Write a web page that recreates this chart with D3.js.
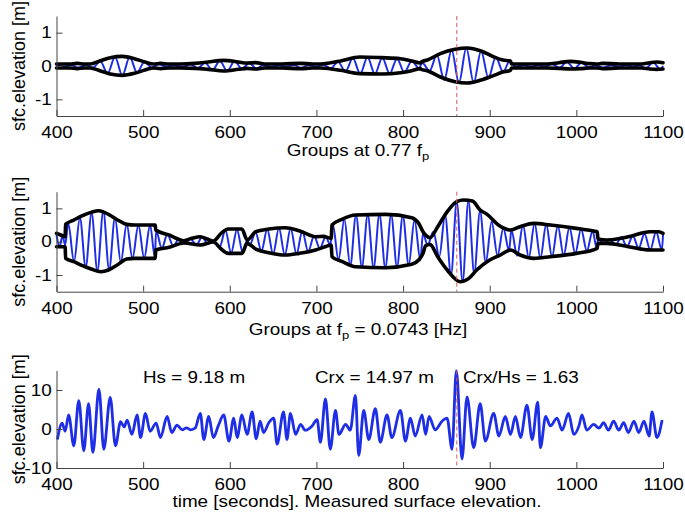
<!DOCTYPE html>
<html>
<head>
<meta charset="utf-8">
<script src="https://cdn.jsdelivr.net/npm/d3@7"></script>
<style>
  html, body { margin: 0; padding: 0; background: #fff; }
  svg { display: block; }
  text { font-family: "Liberation Sans", Arial, sans-serif; fill: #000; }
</style>
</head>
<body>
<svg id="chart" width="685" height="516"></svg>
<script>
// ---------------- DATA ----------------
const xTickValues = [400, 500, 600, 700, 800, 900, 1000, 1100];
const yTicksGroups = [-1, 0, 1];
const yTicksMeasured = [-10, 0, 10];
const crestTime = 862;

const yLabel = "sfc.elevation [m]";
const title1 = ["Groups at 0.77 f", "p", ""];
const title2 = ["Groups at f", "p", " = 0.0743 [Hz]"];
const title3 = "time [seconds]. Measured surface elevation.";
const annotations = ["Hs = 9.18 m", "Crx = 14.97 m", "Crx/Hs = 1.63"];

// Panel 1: groups at 0.77 fp  [time, elevation]
const p1Upper = [[400,0.06],[415,0.06],[424,0.08],[432,0.06],[439,0.06],[450,0.15],[462,0.25],[476,0.29],[490,0.22],[502,0.12],[512,0.06],[520,0.08],[530,0.06],[543,0.06],[560,0.08],[575,0.12],[593,0.17],[610,0.12],[620,0.09],[630,0.1],[640,0.06],[660,0.06],[682,0.08],[695,0.06],[705,0.06],[715,0.09],[728,0.15],[750,0.27],[775,0.25],[797,0.22],[810,0.15],[820,0.09],[821,0.12],[828,0.18],[843,0.37],[860,0.5],[874,0.54],[890,0.45],[905,0.27],[915,0.18],[924,0.15],[925,0.06],[945,0.06],[966,0.06],[980,0.1],[993,0.14],[1005,0.11],[1015,0.07],[1024,0.06],[1030,0.08],[1050,0.06],[1075,0.06],[1085,0.1],[1093,0.12],[1100,0.1]];
const p1Lower = [[400,-0.06],[415,-0.06],[424,-0.08],[432,-0.06],[439,-0.06],[450,-0.14],[462,-0.24],[476,-0.28],[490,-0.22],[502,-0.12],[512,-0.06],[520,-0.08],[530,-0.06],[543,-0.06],[560,-0.07],[575,-0.1],[593,-0.15],[610,-0.1],[620,-0.07],[630,-0.09],[640,-0.06],[660,-0.06],[682,-0.08],[695,-0.06],[705,-0.06],[715,-0.08],[728,-0.13],[750,-0.23],[775,-0.24],[797,-0.2],[810,-0.14],[820,-0.08],[821,-0.1],[828,-0.14],[843,-0.33],[860,-0.47],[874,-0.51],[890,-0.42],[905,-0.28],[915,-0.18],[924,-0.13],[925,-0.06],[945,-0.06],[966,-0.06],[980,-0.07],[993,-0.09],[1005,-0.08],[1015,-0.06],[1024,-0.06],[1030,-0.08],[1050,-0.06],[1075,-0.06],[1085,-0.09],[1093,-0.1],[1100,-0.09]];
const p1Wave = [[400,0.02],[408,-0.02],[417,0.03],[425,-0.05],[434,0.03],[442,-0.05],[450.5,0.14],[459,-0.22],[467.5,0.27],[476,-0.28],[484.5,0.27],[493,-0.2],[501.5,0.13],[510,-0.05],[518,0.05],[527,-0.02],[535,0.02],[546,-0.03],[554.5,0.05],[563,-0.07],[571.5,0.1],[580,-0.13],[588.5,0.16],[597,-0.15],[605.5,0.14],[614,-0.08],[622.5,0.08],[631,-0.08],[638,0.02],[648,-0.02],[657,0.02],[665,-0.02],[674,0.03],[682,-0.06],[691,0.03],[699,-0.02],[708,0.04],[716.5,-0.07],[725,0.13],[733.5,-0.17],[742,0.24],[750.5,-0.23],[759,0.26],[767.5,-0.24],[776,0.25],[784.5,-0.23],[793,0.22],[801.5,-0.19],[810,0.15],[818.5,-0.07],[822,0.1],[830.5,-0.15],[839,0.33],[847.5,-0.42],[856,0.48],[864.5,-0.5],[873,0.54],[881.5,-0.5],[890,0.45],[898.5,-0.35],[907,0.26],[915.5,-0.18],[923,0.15],[930,-0.02],[939,0.02],[948,-0.03],[956,0.03],[963,-0.02],[972,0.06],[980.5,-0.06],[989,0.13],[997.5,-0.08],[1006,0.1],[1014.5,-0.04],[1022,0.02],[1031,-0.05],[1040,0.02],[1049,-0.02],[1057,0.02],[1066,-0.02],[1073,0.02],[1080,-0.07],[1088.5,0.11],[1097,-0.1],[1100,0.0]];

// Panel 2: groups at fp
const p2Upper = [[400,0.25],[405,0.2],[410,0.15],[410.5,0.52],[420,0.65],[430,0.78],[440,0.88],[449,0.93],[460,0.82],[470,0.66],[481,0.52],[490,0.5],[514,0.5],[514.5,0.35],[530,0.2],[547,0.03],[556,0.1],[566,0.15],[574,0.08],[581,0.02],[590,0.25],[598,0.38],[614,0.38],[620,0.05],[630,0.3],[645,0.38],[664,0.42],[680,0.33],[699,0.15],[708,0.16],[717,0.1],[718,0.5],[730,0.68],[745,0.8],[780,0.82],[810,0.72],[818,0.55],[823,0.3],[826,0.2],[831,0.12],[840,0.45],[851,0.9],[862,1.2],[870,1.25],[880,1.22],[889,0.95],[897,0.82],[910,0.5],[924,0.35],[935,0.45],[951,0.55],[970,0.5],[1000,0.4],[1020,0.32],[1024,0.3],[1025,0.08],[1035,0.05],[1060,0.15],[1085,0.3],[1095,0.3],[1100,0.25]];
const p2Lower = [[400,-0.15],[410,-0.15],[410.5,-0.5],[420,-0.6],[430,-0.72],[440,-0.82],[451,-0.9],[460,-0.85],[470,-0.7],[481,-0.52],[490,-0.5],[514,-0.5],[514.5,-0.25],[530,-0.17],[547,-0.04],[566,-0.1],[581,-0.01],[590,-0.22],[598,-0.35],[614,-0.35],[620,-0.05],[630,-0.22],[645,-0.33],[664,-0.4],[680,-0.35],[699,-0.25],[710,-0.15],[717,-0.1],[718,-0.45],[730,-0.6],[745,-0.75],[780,-0.78],[810,-0.68],[818,-0.55],[823,-0.35],[826,-0.12],[831,-0.08],[840,-0.45],[851,-0.85],[866,-1.2],[876,-1.1],[885,-0.85],[900,-0.55],[912,-0.4],[924,-0.25],[935,-0.4],[951,-0.5],[970,-0.45],[1000,-0.35],[1024,-0.2],[1025,-0.05],[1035,-0.05],[1060,-0.15],[1085,-0.25],[1100,-0.25]];
const p2Wave = [[400,0.2],[403.5,-0.15],[407,0.18],[410,-0.1],[413.5,0.55],[420.2,-0.6],[427,0.72],[433.7,-0.76],[440.5,0.86],[447.2,-0.88],[454,0.92],[460.7,-0.84],[467.5,0.72],[474.2,-0.62],[481,0.52],[487.7,-0.5],[494.5,0.5],[501.2,-0.5],[508,0.5],[513.5,-0.45],[515,0.33],[521.5,-0.2],[528,0.22],[534.7,-0.13],[541.5,0.09],[548,-0.03],[554.7,0.08],[561.5,-0.1],[568,0.14],[574.8,-0.07],[581.5,0.02],[588,-0.18],[595,0.34],[601.5,-0.34],[608.3,0.36],[615,-0.33],[620,0.04],[623,-0.1],[629.7,0.28],[636.5,-0.28],[643.2,0.37],[650,-0.37],[656.7,0.41],[663.5,-0.4],[670.2,0.4],[677,-0.37],[683.7,0.32],[690.5,-0.3],[697.2,0.17],[704,-0.2],[710.7,0.15],[716,-0.1],[719,0.5],[725.5,-0.55],[732.2,0.68],[739,-0.72],[745.7,0.8],[752.5,-0.76],[759.2,0.81],[766,-0.78],[772.7,0.82],[779.5,-0.78],[786.2,0.81],[793,-0.76],[799.7,0.78],[806.5,-0.7],[813.2,0.65],[820,-0.55],[823,0.25],[828.3,-0.1],[835,0.3],[841.8,-0.45],[848.5,0.8],[855.3,-1.0],[862,1.2],[868.7,-1.2],[875.4,1.22],[882.1,-0.95],[888.8,0.92],[895.5,-0.62],[902.2,0.6],[909,-0.42],[915.7,0.4],[922.4,-0.27],[925,0.35],[931.7,-0.42],[938.4,0.5],[945.1,-0.48],[951.8,0.55],[958.5,-0.5],[965.2,0.52],[971.9,-0.46],[978.6,0.48],[985.3,-0.42],[992,0.43],[998.7,-0.36],[1005.4,0.38],[1012.1,-0.28],[1018.8,0.32],[1023.5,-0.2],[1025,0.08],[1031.7,-0.05],[1038.4,0.08],[1045.1,-0.1],[1051.8,0.13],[1058.5,-0.15],[1065.2,0.18],[1071.9,-0.2],[1078.6,0.24],[1085.3,-0.25],[1092,0.3],[1098.7,-0.25],[1100,0.2]];

// Panel 3: measured surface elevation
const p3Wave = [[401,-2.7],[406.5,1.5],[410,-0.6],[414,3.6],[420,-4.3],[425.7,7.3],[431.5,-5.6],[437,6.5],[442,-6],[449,10.2],[454.6,-5.2],[462,8.1],[468,-4.3],[474,1.9],[478,0.5],[481.5,2.3],[487,-1.4],[493,3.6],[497,-2.2],[502.7,4],[508,-0.6],[515,1.5],[520,-2.2],[527.7,3.2],[533,-0.9],[539,1],[545,-0.2],[550,0.3],[555,-0.2],[560,0.2],[566,4],[570,-2.7],[575.7,3.2],[581,-2.2],[587,1.0],[593,3.6],[599,-3.1],[604.6,2.8],[608.5,-2.2],[614,3.6],[620,-1.4],[625.8,4.4],[630.5,-2.5],[635,2],[639,-0.9],[645,1.6],[650.7,2.8],[654.6,-3.9],[662,4.4],[666,-2.7],[670,4],[676,-1.4],[681.7,1.2],[687,-0.3],[695,0.8],[700.8,2.4],[704.6,-3.4],[710.4,7.7],[716,-5.2],[722,4.8],[726,-1.4],[733.7,1.2],[739,-0.3],[745,8.6],[748.8,-6.8],[754.6,4.8],[760.4,-2.7],[768,5.2],[773.7,-3.4],[781.5,3.6],[787,-2.2],[797,4.8],[802.7,-3.1],[808.5,2.8],[814,-1.8],[822,3.6],[826,-1.4],[830,3.2],[837,-0.2],[845,2],[850.8,2.8],[856.5,-5.2],[861.5,14.97],[868,-7.7],[873.8,8.2],[881.5,-4.8],[889,6.5],[895,-3.1],[904.6,4],[910.6,-1.8],[918,3.2],[924,-1.4],[929.7,3.2],[935.5,-2.2],[943,6.1],[949,-2.7],[955.4,6.9],[958.5,-4.8],[964.6,3.2],[970,0.8],[977.7,2.8],[983.5,-0.3],[991,4],[997,-1.4],[1003,0.8],[1006.5,3.6],[1012,-0.3],[1020,1.2],[1026,0.2],[1031.5,1.6],[1037,-0.3],[1043,2],[1049,-0.3],[1054.6,1.6],[1060,-0.9],[1066.5,2],[1072,-0.9],[1078,2],[1084,-1.8],[1087.3,4.4],[1093,-2.2],[1099,2.3]];

// ---------------- DRAWING ----------------
const svg = d3.select("#chart");
const SX = 1.18;          // horizontal stretch of the original raster text
const FONT = 16;
const blue = "#1e2ee6";
const redDash = "#d65a5a";

const x = d3.scaleLinear().domain([400, 1100]).range([56.5, 663]);

const panels = [
  { yDomain: [-1.5, 1.5], yRange: [116, 16], ticks: yTicksGroups, upper: p1Upper, lower: p1Lower, wave: p1Wave, waveWidth: 2 },
  { yDomain: [-1.5, 1.5], yRange: [291.7, 191.7], ticks: yTicksGroups, upper: p2Upper, lower: p2Lower, wave: p2Wave, waveWidth: 2 },
  { yDomain: [-10, 15], yRange: [468, 370.5], ticks: yTicksMeasured, upper: null, lower: null, wave: p3Wave, waveWidth: 2.8 }
];

panels.forEach((p, i) => {
  const y = d3.scaleLinear().domain(p.yDomain).range(p.yRange);
  const g = svg.append("g");

  const line = d3.line().x(d => x(d[0])).y(d => y(d[1])).curve(d3.curveMonotoneX);

  // blue oscillation
  g.append("path").datum(p.wave)
    .attr("d", line)
    .attr("fill", "none")
    .attr("stroke", blue)
    .attr("stroke-width", p.waveWidth)
    .attr("stroke-linejoin", "round");

  // envelopes
  if (p.upper) {
    [p.upper, p.lower].forEach(env => {
      g.append("path").datum(env)
        .attr("d", line)
        .attr("fill", "none")
        .attr("stroke", "#000")
        .attr("stroke-width", 3.6)
        .attr("stroke-linejoin", "round")
        .attr("stroke-linecap", "round");
    });
  }

  // red dashed crest line
  g.append("line")
    .attr("x1", x(crestTime)).attr("x2", x(crestTime))
    .attr("y1", y(p.yDomain[1])).attr("y2", y(p.yDomain[0]))
    .attr("stroke", redDash)
    .attr("stroke-width", 1)
    .attr("stroke-dasharray", "4,3");

  // axes
  const fmt = d => String(d);
  const xAxis = d3.axisBottom(x).tickValues(xTickValues).tickFormat(fmt).tickSizeInner(-6).tickSizeOuter(0).tickPadding(11);
  const yAxis = d3.axisLeft(y).tickValues(p.ticks).tickFormat(fmt).tickSizeInner(-6).tickSizeOuter(0).tickPadding(4);

  const gx = g.append("g").attr("transform", `translate(0,${p.yRange[0]})`).call(xAxis);
  const gy = g.append("g").attr("transform", `translate(${x.range()[0]},0)`).call(yAxis);
  [gx, gy].forEach(ax => {
    ax.select(".domain").attr("stroke", "#444");
    ax.selectAll(".tick line").attr("stroke", "#444");
    ax.selectAll(".tick text")
      .attr("font-family", "Liberation Sans, Arial, sans-serif")
      .attr("font-size", FONT)
      .attr("fill", "#000")
      .attr("transform", `scale(${SX},1)`);
  });

  // y label
  const cy = (p.yRange[0] + p.yRange[1]) / 2;
  svg.append("text")
    .attr("transform", `translate(25,${cy}) rotate(-90)`)
    .attr("text-anchor", "middle")
    .attr("font-size", 18)
    .text(yLabel);
});

// x titles
function subTitle(parts, yBase) {
  const t = svg.append("text")
    .attr("transform", `translate(358,${yBase}) scale(${SX},1)`)
    .attr("text-anchor", "middle")
    .attr("font-size", FONT);
  t.append("tspan").text(parts[0]);
  t.append("tspan").attr("font-size", 11).attr("dy", 4).text(parts[1]);
  t.append("tspan").attr("dy", -4).text(parts[2]);
}
subTitle(title1, 156);
subTitle(title2, 335);

svg.append("text")
  .attr("transform", `translate(357,507) scale(${SX},1)`)
  .attr("text-anchor", "middle")
  .attr("font-size", FONT)
  .text(title3);

const annX = [143, 315, 463];
annotations.forEach((a, i) => {
  svg.append("text")
    .attr("transform", `translate(${annX[i]},382.5) scale(${SX},1)`)
    .attr("font-size", FONT)
    .text(a);
});
</script>
</body>
</html>
